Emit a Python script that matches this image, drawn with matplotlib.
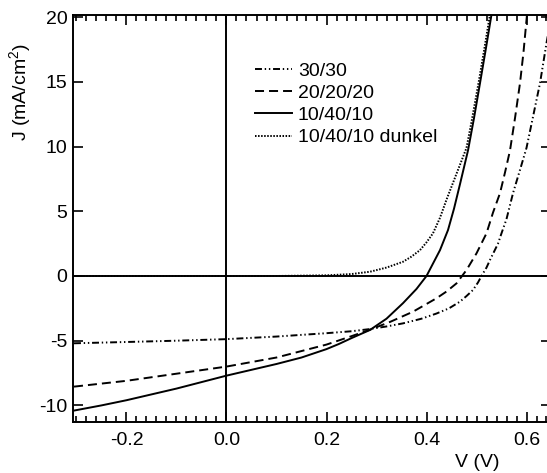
import numpy as np
import matplotlib
matplotlib.use("Agg")
from matplotlib import pyplot as plt
from matplotlib.ticker import MultipleLocator

plt.rcParams['font.family'] = ['Liberation Sans', 'DejaVu Sans']
plt.rcParams['mathtext.default'] = 'regular'
plt.rcParams['axes.unicode_minus'] = False
plt.rcParams['lines.scale_dashes'] = False

# J-V curves (V in volts, J in mA/cm^2)
v_3030 = [-0.305, -0.2, -0.1, 0.0, 0.1, 0.2, 0.25, 0.287, 0.32, 0.353, 0.39, 0.42,
          0.445, 0.467, 0.48, 0.493, 0.503, 0.51, 0.52, 0.527, 0.543, 0.55, 0.56, 0.573,
          0.587, 0.6, 0.613, 0.627, 0.64, 0.65]
j_3030 = [-5.2, -5.1, -5.0, -4.88, -4.68, -4.42, -4.27, -4.1, -3.9, -3.66, -3.3, -2.9,
          -2.5, -1.98, -1.55, -1.08, -0.5, 0.0, 0.65, 1.24, 2.5, 3.3, 4.4, 6.4,
          8.2, 9.9, 12.3, 14.9, 18.0, 20.2]

v_202020 = [-0.305, -0.2, -0.1, 0.0, 0.1, 0.2, 0.25, 0.287, 0.327, 0.373, 0.42, 0.44,
            0.46, 0.48, 0.5, 0.52, 0.533, 0.547, 0.557, 0.567, 0.577, 0.587, 0.594, 0.601]
j_202020 = [-8.55, -8.1, -7.55, -7.0, -6.3, -5.3, -4.65, -4.15, -3.55, -2.76, -1.72, -1.2,
            -0.57, 0.46, 1.75, 3.3, 4.9, 6.4, 8.0, 9.7, 12.2, 14.9, 17.3, 20.2]

v_104010 = [-0.305, -0.25, -0.2, -0.15, -0.1, -0.05, 0.0, 0.05, 0.1, 0.15, 0.2, 0.225,
            0.25, 0.287, 0.32, 0.353, 0.38, 0.4, 0.427, 0.443, 0.455, 0.467, 0.483,
            0.495, 0.507, 0.518, 0.53]
j_104010 = [-10.4, -10.0, -9.6, -9.15, -8.7, -8.2, -7.7, -7.25, -6.8, -6.3, -5.65, -5.25,
            -4.8, -4.17, -3.3, -2.1, -1.0, 0.0, 2.0, 3.55, 5.2, 7.1, 9.7,
            12.2, 14.9, 17.4, 20.2]

v_dunkel = [-0.305, 0.0, 0.1, 0.2, 0.25, 0.287, 0.32, 0.353, 0.37, 0.387, 0.4, 0.413,
            0.427, 0.44, 0.455, 0.467, 0.48, 0.49, 0.504, 0.515, 0.527]
j_dunkel = [0.0, 0.0, 0.0, 0.05, 0.15, 0.33, 0.65, 1.1, 1.5, 2.0, 2.6, 3.3,
            4.5, 5.9, 7.4, 8.6, 9.9, 11.9, 14.9, 17.4, 20.2]

labels = ['30/30', '20/20/20', '10/40/10', '10/40/10 dunkel']

W, H = 547, 473
fig = plt.figure(figsize=(W / 100, H / 100), dpi=100)
ax = fig.add_axes([73 / W, (H - 421.7) / H, (551 - 73) / W, (421.7 - 15) / H])

lw = 1.4
ax.axhline(0, color='black', lw=lw, zorder=1)
ax.axvline(0, color='black', lw=lw, zorder=1)

ax.plot(v_3030, j_3030, color='black', lw=lw, dashes=(5, 2, 1, 2, 1, 2), label=labels[0])
ax.plot(v_202020, j_202020, color='black', lw=lw, dashes=(6.5, 3.6), label=labels[1])
ax.plot(v_104010, j_104010, color='black', lw=lw, label=labels[2])
ax.plot(v_dunkel, j_dunkel, color='black', lw=lw, dashes=(1.1, 1.1), label=labels[3])

ax.set_xlim(-0.307, 0.649)
ax.set_ylim(-11.26, 20.17)

ax.xaxis.set_minor_locator(MultipleLocator(0.02))
ax.yaxis.set_major_locator(MultipleLocator(5))
ax.set_xticks([-0.2, 0.0, 0.2, 0.4, 0.6])
ax.set_xticklabels(['-0.2', '0.0', '0.2', '0.4', '0.6'])

ax.tick_params(which='both', direction='in', top=True, right=True, labelsize=14, width=1.2)
ax.tick_params(which='major', length=7)
ax.tick_params(which='minor', length=4)
ax.tick_params(axis='x', pad=7.5)
ax.tick_params(axis='y', pad=4)
for s in ax.spines.values():
    s.set_linewidth(1.4)

ax.set_xlabel('V (V)', fontsize=14)
ax.xaxis.set_label_coords(0.845, -0.08)
ax.set_ylabel('J (mA/cm$^2$)', fontsize=14)
ax.yaxis.set_label_coords(-0.084, 0.811)

ax.legend(loc='upper left', bbox_to_anchor=(255 / W, 1 - 62 / H), bbox_transform=fig.transFigure,
          frameon=False, fontsize=14, handlelength=1.9, handletextpad=0.31,
          labelspacing=0.24, borderaxespad=0, borderpad=0)

fig.savefig('out.png', dpi=100)
